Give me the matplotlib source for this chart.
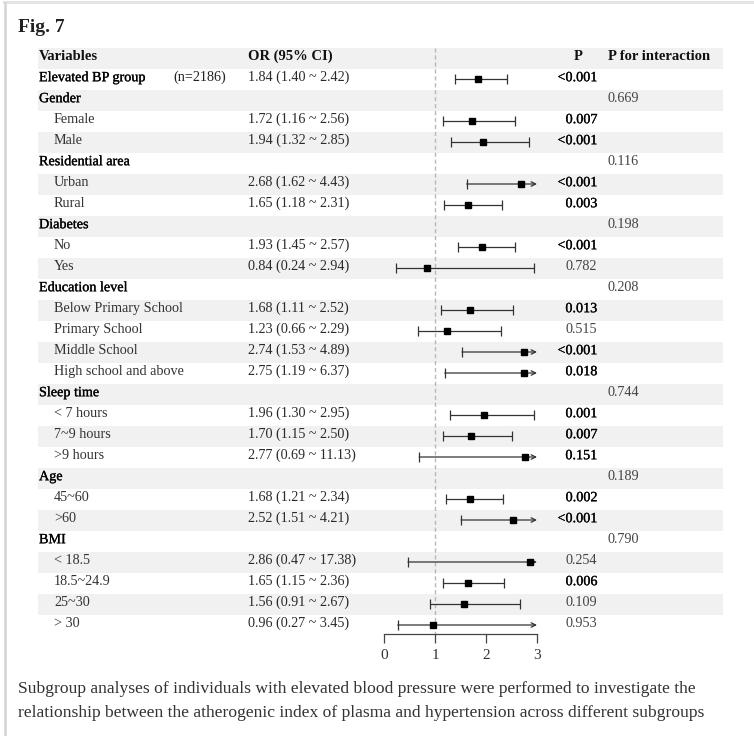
import matplotlib.pyplot as plt
import matplotlib.transforms as mtransforms
import matplotlib.patheffects as pe

# ---- data ----
labels = ["Elevated BP group", "Gender", "Female", "Male", "Residential area",
          "Urban", "Rural", "Diabetes", "No", "Yes", "Education level",
          "Below Primary School", "Primary School", "Middle School",
          "High school and above", "Sleep time", "< 7 hours", "7~9 hours",
          ">9 hours", "Age", "45~60", ">60", "BMI", "< 18.5", "18.5~24.9",
          "25~30", "> 30"]
or_val = [1.84, None, 1.72, 1.94, None, 2.68, 1.65, None, 1.93, 0.84, None,
          1.68, 1.23, 2.74, 2.75, None, 1.96, 1.70, 2.77, None, 1.68, 2.52,
          None, 2.86, 1.65, 1.56, 0.96]
ci_low = [1.40, None, 1.16, 1.32, None, 1.62, 1.18, None, 1.45, 0.24, None,
          1.11, 0.66, 1.53, 1.19, None, 1.30, 1.15, 0.69, None, 1.21, 1.51,
          None, 0.47, 1.15, 0.91, 0.27]
ci_high = [2.42, None, 2.56, 2.85, None, 4.43, 2.31, None, 2.57, 2.94, None,
           2.52, 2.29, 4.89, 6.37, None, 2.95, 2.50, 11.13, None, 2.34, 4.21,
           None, 17.38, 2.36, 2.67, 3.45]
p_text = ["<0.001", "", "0.007", "<0.001", "", "<0.001", "0.003", "",
          "<0.001", "0.782", "", "0.013", "0.515", "<0.001", "0.018", "",
          "0.001", "0.007", "0.151", "", "0.002", "<0.001", "", "0.254",
          "0.006", "0.109", "0.953"]
p_dark = ["<0.001", "0.007", "0.003", "0.013", "0.018", "0.001", "0.151",
          "0.002", "0.006"]
p_inter = ["", "0.669", "", "", "0.116", "", "", "0.198", "", "", "0.208",
           "", "", "", "", "0.744", "", "", "", "0.189", "", "", "0.790",
           "", "", "", ""]
n_note = "(n=2186)"
x_ticks = [0, 1, 2, 3]
x_max = 3

W, H = 754, 736
FONT = "Liberation Serif"


def fx(px):
    return px / W


fig = plt.figure(figsize=(W / 100, H / 100), dpi=100)
fig.patch.set_facecolor("white")

# page borders
fig.add_artist(plt.Line2D([fx(4), 1], [1 - 1.5 / H, 1 - 1.5 / H],
                          color="#e4e4e4", lw=2.2))
fig.add_artist(plt.Line2D([fx(5), fx(5)], [0, 1 - 3 / H],
                          color="#d4d4d4", lw=1.8))

fig.text(fx(18), 1 - 27 / H, "Fig. 7", fontsize=14, fontweight="bold",
         family=FONT, va="center", ha="left", color="#222222")

top, bottom = 47.5, 635.5
nrows = len(labels) + 1
row_h = (bottom - top) / nrows
ax_rect = [fx(38), 1 - bottom / H, fx(723 - 38), (bottom - top) / H]

bg = fig.add_axes(ax_rect)
bg.set_xlim(0, 1)
bg.set_ylim(nrows - 0.5, -0.5)
bg.axis("off")
for i in range(0, nrows, 2):
    bg.axhspan(i - 0.5, i + 0.5, color="#f1f1f1", lw=0)

tr = mtransforms.blended_transform_factory(fig.transFigure, bg.transData)
dy = -0.06
dark_fx = [pe.withStroke(linewidth=0.2, foreground="#111111")]

# header
hdr = dict(fontsize=10.5, fontweight="bold", family=FONT, va="center",
           transform=tr, color="#111111")
bg.text(fx(39), 0 + dy, "Variables", ha="left", **hdr)
bg.text(fx(248), 0 + dy, "OR (95% CI)", ha="left", **hdr)
bg.text(fx(578), 0 + dy, "P", ha="center", **hdr)
bg.text(fx(608), 0 + dy, "P for interaction", ha="left", **hdr)

txt = dict(fontsize=10.2, family=FONT, va="center", transform=tr)
for k, lab in enumerate(labels):
    y = k + 1 + dy
    is_group = or_val[k] is None or k == 0
    if is_group:
        bg.text(fx(39), y, lab, ha="left", color="#000000",
                path_effects=dark_fx, **txt)
    else:
        bg.text(fx(54), y, lab, ha="left", color="#333333", **txt)
    if k == 0:
        bg.text(fx(173), y, n_note, ha="left", color="#222222", **txt)
    if or_val[k] is not None:
        s = f"{or_val[k]:.2f} ({ci_low[k]:.2f} ~ {ci_high[k]:.2f})"
        bg.text(fx(248), y, s, ha="left", color="#2a2a2a", **txt)
    if p_text[k]:
        dark = p_text[k] in p_dark
        bg.text(fx(597), y, p_text[k], ha="right",
                color="#000000" if dark else "#444444",
                path_effects=dark_fx if dark else None, **txt)
    if p_inter[k]:
        bg.text(fx(608), y, p_inter[k], ha="left", color="#444444", **txt)

# forest plot
ax = fig.add_axes([fx(384), ax_rect[1], fx(537 - 384), ax_rect[3]])
ax.set_xlim(0, x_max)
ax.set_ylim(nrows - 0.5, -0.5)
ax.patch.set_alpha(0)
for side in ["top", "left", "right"]:
    ax.spines[side].set_visible(False)
axis_y = nrows - 0.5 - (bottom - 634) / row_h
ax.spines["bottom"].set_position(("data", axis_y))
ax.spines["bottom"].set_bounds(0, x_max)
ax.spines["bottom"].set_color("#444444")
ax.spines["bottom"].set_linewidth(0.9)
ax.set_xticks(x_ticks)
ax.set_xticklabels([str(t) for t in x_ticks], family=FONT, fontsize=11,
                   color="#333333")
ax.tick_params(axis="x", direction="out", length=6.5, width=0.9,
               color="#444444", pad=4)
ax.tick_params(axis="y", left=False, labelleft=False)

ax.vlines(1, -0.5, axis_y, colors="#b8b8b8", linestyles=(0, (3, 2)), lw=1.0,
          zorder=1)

line_c = "#333333"
cap = 0.25
for k in range(len(labels)):
    if or_val[k] is None:
        continue
    y = k + 1
    lo, hi, est = ci_low[k], ci_high[k], or_val[k]
    ax.vlines(lo, y - cap, y + cap, colors=line_c, lw=0.9, zorder=2)
    if hi > x_max:
        ax.annotate("", xy=(x_max, y), xytext=(lo, y),
                    arrowprops=dict(arrowstyle="->", lw=0.9, color=line_c,
                                    shrinkA=0, shrinkB=0,
                                    mutation_scale=8), zorder=2)
    else:
        ax.hlines(y, lo, hi, colors=line_c, lw=0.9, zorder=2)
        ax.vlines(hi, y - cap, y + cap, colors=line_c, lw=0.9, zorder=2)
    ax.plot(est, y, marker="s", ms=5, color="black", mec="black", zorder=3)

# caption
cap_kw = dict(fontsize=12.6, family=FONT, color="#333333", ha="left",
              va="center")
fig.text(fx(18), 1 - 689 / H,
         "Subgroup analyses of individuals with elevated blood pressure were "
         "performed to investigate the", **cap_kw)
fig.text(fx(18), 1 - 713 / H,
         "relationship between the atherogenic index of plasma and hypertension "
         "across different subgroups", **cap_kw)

fig.savefig("out.png", dpi=100, facecolor="white")
